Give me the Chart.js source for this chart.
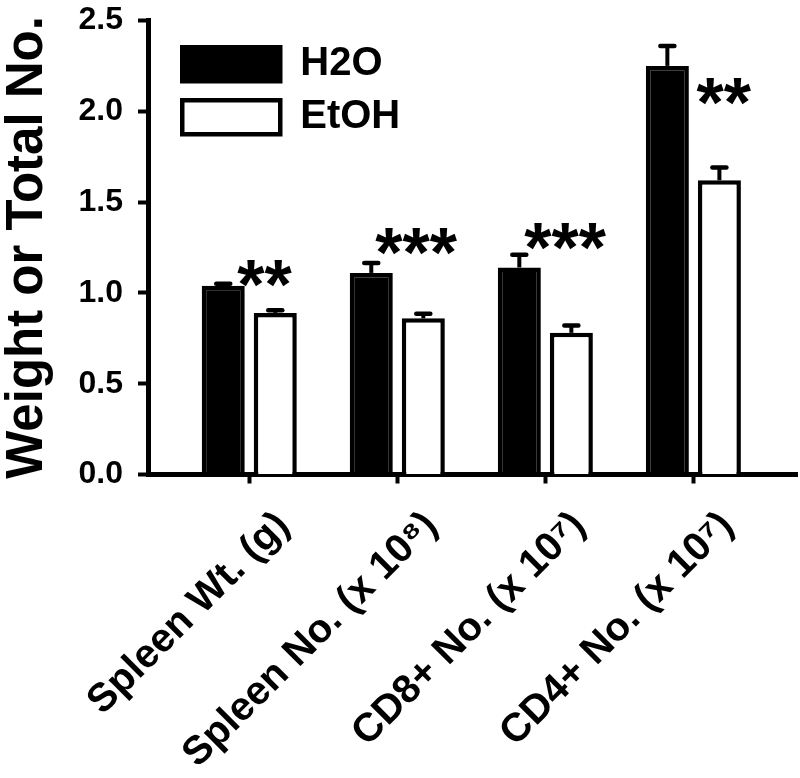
<!DOCTYPE html>
<html>
<head>
<meta charset="utf-8">
<script src="https://cdn.jsdelivr.net/npm/chart.js@4.4.1/dist/chart.umd.min.js"></script>
<style>
html,body{margin:0;padding:0;background:#fff;}
#wrap{width:800px;height:778px;position:relative;}
</style>
</head>
<body>
<div id="wrap"><canvas id="c" width="800" height="778"></canvas></div>
<script>
// ---- data ----
const categories = ['Spleen Wt. (g)', 'Spleen No. (x 10\u2078)', 'CD8+ No. (x 10\u2077)', 'CD4+ No. (x 10\u2077)'];
const seriesNames = ['H2O', 'EtOH'];
const h2oValues = [1.04, 1.11, 1.14, 2.25];
const h2oErrors = [0.01, 0.055, 0.07, 0.11];
const etohValues = [0.89, 0.86, 0.78, 1.62];
const etohErrors = [0.015, 0.025, 0.04, 0.07];
const yTickValues = [0.0, 0.5, 1.0, 1.5, 2.0, 2.5];
const significance = ['**', '***', '***', '**'];
const significanceLevel = [1.106, 1.282, 1.311, 2.11];

const FONT = "'Liberation Sans', Arial, Helvetica, sans-serif";
Chart.defaults.font.family = FONT;
Chart.defaults.color = '#000';

const errorSets = [h2oErrors, etohErrors];

const errorBars = {
  id: 'errorBars',
  afterDatasetsDraw(chart) {
    const ctx = chart.ctx, y = chart.scales.y;
    chart.data.datasets.forEach((ds, di) => {
      const meta = chart.getDatasetMeta(di);
      meta.data.forEach((bar, i) => {
        const v = ds.data[i].y;
        const top = y.getPixelForValue(v + errorSets[di][i]);
        ctx.save();
        ctx.strokeStyle = '#000';
        ctx.lineWidth = 4;
        ctx.lineCap = 'butt';
        ctx.beginPath();
        ctx.moveTo(bar.x, bar.y);
        ctx.lineTo(bar.x, top);
        ctx.stroke();
        ctx.lineWidth = 4.5;
        ctx.lineCap = 'round';
        ctx.beginPath();
        ctx.moveTo(bar.x - 7, top);
        ctx.lineTo(bar.x + 7, top);
        ctx.stroke();
        ctx.restore();
      });
    });
  }
};

const sigMarks = {
  id: 'sigMarks',
  afterDatasetsDraw(chart, args, opts) {
    const ctx = chart.ctx, x = chart.scales.x, y = chart.scales.y;
    ctx.save();
    ctx.fillStyle = '#000';
    ctx.font = 'bold ' + opts.size + 'px ' + FONT;
    ctx.textAlign = 'left';
    ctx.textBaseline = 'alphabetic';
    significance.forEach((s, i) => {
      const cx = x.getPixelForValue(i + opts.dx[i]);
      const cy = y.getPixelForValue(significanceLevel[i]);
      const m = ctx.measureText(s);
      const left = cx - (m.actualBoundingBoxRight - m.actualBoundingBoxLeft) / 2 + m.actualBoundingBoxLeft;
      const base = cy + (m.actualBoundingBoxAscent - m.actualBoundingBoxDescent) / 2;
      ctx.fillText(s, left, base);
    });
    ctx.restore();
  }
};

const legendPlace = {
  id: 'legendPlace',
  afterLayout(chart, args, opts) {
    const lg = chart.legend;
    if (!lg) return;
    lg.left = chart.chartArea.left + opts.dx;
    lg.top = chart.chartArea.top + opts.dy;
  }
};

new Chart(document.getElementById('c'), {
  type: 'bar',
  data: {
    datasets: [
      {
        label: seriesNames[0],
        data: h2oValues.map((v, i) => ({x: i, y: v})),
        backgroundColor: '#000',
        borderColor: '#000',
        borderWidth: 4.5
      },
      {
        label: seriesNames[1],
        data: etohValues.map((v, i) => ({x: i, y: v})),
        backgroundColor: '#fff',
        borderColor: '#000',
        borderWidth: 4.5
      }
    ]
  },
  options: {
    responsive: false,
    animation: false,
    devicePixelRatio: 1,
    categoryPercentage: 0.703,
    barPercentage: 0.827,
    layout: {padding: {top: 20.5, right: 3, bottom: 0, left: 0}},
    scales: {
      x: {
        type: 'linear',
        min: -0.684,
        max: 3.70,
        offset: false,
        afterBuildTicks: (s) => { s.ticks = categories.map((c, i) => ({value: i})); },
        afterFit: (s) => { s.height = 778 - 474.5; },
        grid: {display: true, drawOnChartArea: false, drawTicks: true, tickLength: 9, tickWidth: 4, tickColor: '#000', offset: false},
        border: {display: true, color: '#000', width: 5},
        ticks: {
          autoSkip: false,
          maxRotation: 45,
          minRotation: 45,
          labelOffset: 34,
          padding: 19,
          color: '#000',
          font: {size: 40, weight: 'bold'},
          callback: (v) => categories[Math.round(v)]
        }
      },
      y: {
        min: 0,
        max: 2.5,
        afterBuildTicks: (s) => { s.ticks = yTickValues.map(v => ({value: v})); },
        afterFit: (s) => { s.width = 148; s.paddingTop = 0; s.paddingBottom = 0; },
        grid: {display: true, drawOnChartArea: false, drawTicks: true, tickLength: 10, tickWidth: 4, tickColor: '#000'},
        border: {display: true, color: '#000', width: 5},
        ticks: {
          padding: 15,
          color: '#000',
          font: {size: 32, weight: 'bold'},
          callback: (v) => Number(v).toFixed(1)
        },
        title: {
          display: true,
          text: 'Weight or Total No.',
          color: '#000',
          font: {size: 51, weight: 'bold', lineHeight: 1.0},
          padding: {top: 2, bottom: 0}
        }
      }
    },
    plugins: {
      legend: {
        display: true,
        position: 'chartArea',
        align: 'start',
        labels: {
          boxWidth: 98,
          boxHeight: 34,
          padding: 13,
          color: '#000',
          font: {size: 40, weight: 'bold'}
        }
      },
      legendPlace: {dx: 21.25, dy: 10.75},
      sigMarks: {size: 70, dx: [0.106, 0.13, 0.136, 0.207]},
      tooltip: {enabled: false}
    }
  },
  plugins: [errorBars, sigMarks, legendPlace]
});
</script>
</body>
</html>
